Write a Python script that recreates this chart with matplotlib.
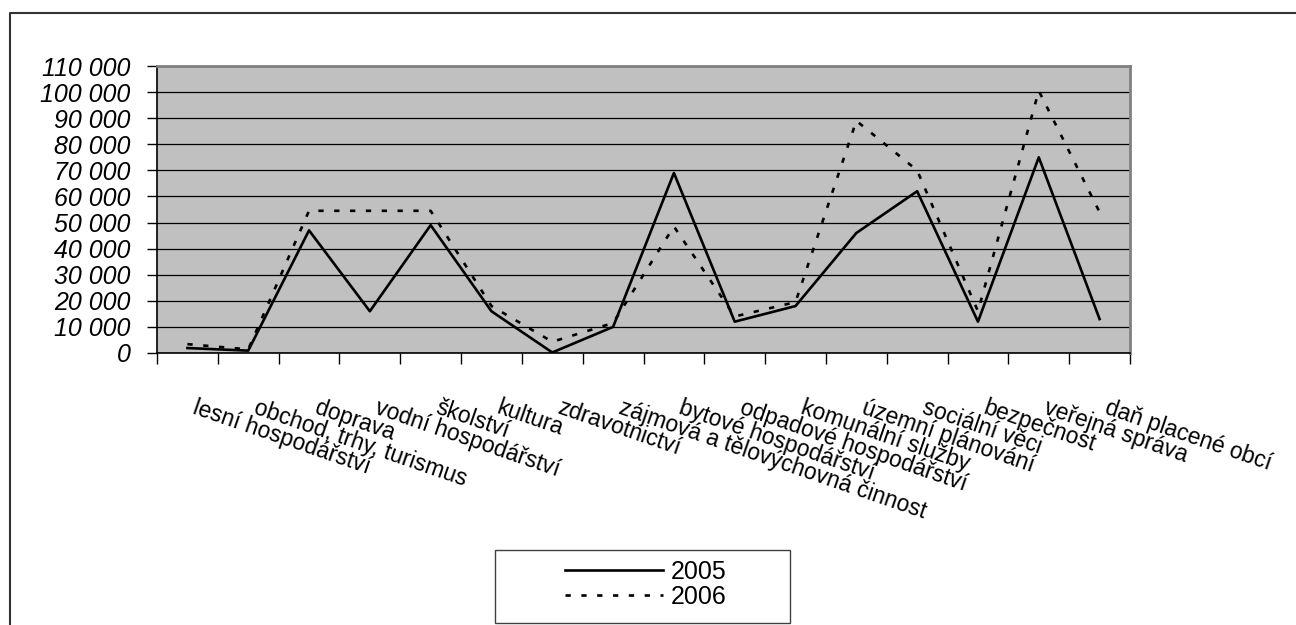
import matplotlib
matplotlib.use("Agg")
import matplotlib.pyplot as plt
from matplotlib.lines import Line2D
from matplotlib.patches import Rectangle
from matplotlib.ticker import FuncFormatter, MultipleLocator

plt.rcParams["font.family"] = ["Liberation Sans", "DejaVu Sans"]

categories = [
    "lesní hospodářství", "obchod, trhy, turismus", "doprava", "vodní hospodářství",
    "školství", "kultura", "zdravotnictví", "zájmová a tělovýchovná činnost",
    "bytové hospodářství", "odpadové hospodářství", "komunální služby",
    "územní plánování", "sociální věci", "bezpečnost", "veřejná správa",
    "daň placené obcí",
]
values_2005 = [1900, 900, 47000, 16000, 49000, 16000, 200, 10000,
               69000, 12000, 18000, 46000, 62000, 12000, 75000, 13000]
values_2006 = [3400, 1400, 54500, 54500, 54500, 18000, 4300, 11500,
               48500, 14000, 19500, 89000, 70000, 16000, 100500, 54000]
series_names = ["2005", "2006"]

W, H = 1296, 625
fig = plt.figure(figsize=(W / 100, H / 100), dpi=100)
ax = fig.add_axes([157 / W, 1 - 353 / H, (1130 - 157) / W, (353 - 66) / H])
ax.set_facecolor("#c0c0c0")

x = list(range(len(categories)))
ax.plot(x, values_2005, color="black", lw=1.9, label=series_names[0])
ax.plot(x, values_2006, color="black", lw=1.9, linestyle=(0, (2, 4)),
        label=series_names[1])

ax.set_xlim(-0.5, len(categories) - 0.5)
ax.set_ylim(0, 110000)
ax.yaxis.set_major_locator(MultipleLocator(10000))
ax.yaxis.set_major_formatter(FuncFormatter(lambda v, p: f"{int(v):,}".replace(",", " ")))
ax.grid(axis="y", color="black", lw=0.9)
ax.set_axisbelow(True)

# ticks on category boundaries, labels drawn as rotated text
ax.set_xticks([i - 0.5 for i in range(len(categories) + 1)])
ax.set_xticklabels([])
ax.tick_params(axis="x", direction="out", length=8, width=1, color="black")
ax.tick_params(axis="y", direction="out", length=7, width=1, pad=12,
               labelsize=18)
for lbl in ax.get_yticklabels():
    lbl.set_fontstyle("italic")

trans = ax.get_xaxis_transform()
for i, name in enumerate(categories):
    ax.text(i + 0.165, -0.15, name, transform=trans, rotation=-19,
            rotation_mode="anchor", ha="left", va="top", fontsize=16.5)

for side in ("top", "right"):
    ax.spines[side].set_color("#808080")
    ax.spines[side].set_linewidth(2)
for side in ("left", "bottom"):
    ax.spines[side].set_color("black")
    ax.spines[side].set_linewidth(1.2)

# legend
fig.add_artist(Rectangle((495 / W, 1 - 623 / H), 295 / W, 73 / H,
                         transform=fig.transFigure, fill=False,
                         edgecolor="#404040", lw=1))
fig.legend(loc="center", bbox_to_anchor=(646 / W, 1 - 584.5 / H),
           frameon=False, fontsize=18, handlelength=3.9, handletextpad=0.32,
           labelspacing=0.05, borderpad=0)

# chart area border
fig.add_artist(Line2D([10 / W, 10 / W, 1], [0, 1 - 13 / H, 1 - 13 / H],
                      transform=fig.transFigure, color="#333333", lw=1.5))

fig.savefig("out.png", dpi=100)
